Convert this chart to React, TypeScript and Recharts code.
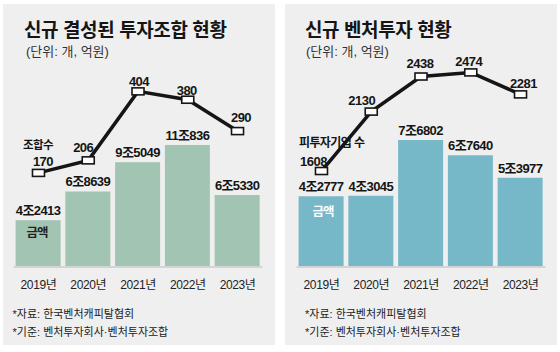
import React from 'react';
import { ComposedChart, Bar, Line, XAxis, YAxis, LabelList } from 'recharts';

// ---------- data ----------
const years = ['2019년', '2020년', '2021년', '2022년', '2023년'];
const fundCounts = [170, 206, 404, 380, 290];
const fundAmounts = [42413, 68639, 95049, 110836, 65330];
const ventureCounts = [1608, 2130, 2438, 2474, 2281];
const ventureAmounts = [42777, 43045, 76802, 67640, 53977];

const leftTitle = '신규 결성된 투자조합 현황';
const rightTitle = '신규 벤처투자 현황';
const unitText = '(단위: 개, 억원)';
const sourceText = '*자료: 한국벤처캐피탈협회';
const basisText = '*기준: 벤처투자회사·벤처투자조합';
const leftLineCaption = '조합수';
const rightLineCaption = '피투자기업 수';
const barCaption = '금액';

// ---------- styling ----------
const FONT = '"Liberation Sans", "Noto Sans CJK KR", sans-serif';
const PANEL_BG = '#efefef';
const LEFT_BAR = '#a1c4b3';
const RIGHT_BAR = '#77b8c8';
const INK = '#151515';
const LEFT_LABEL_DX = [4.5, -5, 1, -1, 3.5];
const RIGHT_LABEL_DX = [-8, -9.5, -1, -2, 3];
const LEFT_DY = [-7.3, -8.7, -5.7, -5, -8.7];
const RIGHT_DY = [-5, -6.7, -8.7, -6.3, -6.3];

const leftData = years.map((year, i) => ({ year, count: fundCounts[i], amount: fundAmounts[i] }));
const rightData = years.map((year, i) => ({ year, count: ventureCounts[i], amount: ventureAmounts[i] }));

const fmtAmount = (v: number) => `${Math.floor(v / 10000)}조${v % 10000}`;

const getBox = (props: any) => {
  const vb = props.viewBox || {};
  return {
    x: props.x ?? vb.x,
    y: props.y ?? vb.y,
    width: props.width ?? vb.width ?? 0,
    height: props.height ?? vb.height ?? 0,
  };
};

const MarkerDot = (props: any) => {
  const { cx, cy, index } = props;
  if (cx == null || cy == null) return <g key={`d-${index}`} />;
  return (
    <rect
      key={`d-${index}`}
      x={cx - 6}
      y={cy - 3.5}
      width={12}
      height={7}
      fill="#fff"
      stroke={INK}
      strokeWidth={1.6}
    />
  );
};

const makeBarLabel = (captionColor: string, captionDy: number, captionDx: number) => (props: any) => {
  const { x, y, width } = getBox(props);
  const cx = x + width / 2;
  return (
    <g>
      <text
        x={cx}
        y={y - 5}
        textAnchor="middle"
        fontSize={13}
        fontWeight="bold"
        letterSpacing={-0.6}
        fill={INK}
        fontFamily={FONT}
      >
        {fmtAmount(Number(props.value))}
      </text>
      {props.index === 0 && (
        <text
          x={cx + captionDx}
          y={y + captionDy}
          textAnchor="middle"
          fontSize={12.5}
          fontWeight="bold"
          letterSpacing={-1}
          fill={captionColor}
          fontFamily={FONT}
        >
          {barCaption}
        </text>
      )}
    </g>
  );
};

const makeLineLabel = (
  dxs: number[],
  baseDy: number[],
  caption: string,
  captionDx: number,
  captionAnchor: 'start' | 'middle',
  captionSize: number
) => (props: any) => {
  const { x, y } = getBox(props);
  const i = props.index ?? 0;
  return (
    <g>
      {i === 0 && (
        <text
          x={x + captionDx}
          y={y - 24}
          textAnchor={captionAnchor}
          fontSize={captionSize}
          fontWeight="bold"
          letterSpacing={-0.6}
          fill={INK}
          fontFamily={FONT}
        >
          {caption}
        </text>
      )}
      <text
        x={x + dxs[i]}
        y={y + baseDy[i]}
        textAnchor="middle"
        fontSize={13}
        fontWeight="bold"
        letterSpacing={-0.5}
        fill={INK}
        fontFamily={FONT}
      >
        {props.value}
      </text>
    </g>
  );
};

type PanelProps = {
  data: any[];
  left: number;
  marginLeft: number;
  marginRight: number;
  barColor: string;
  barDomain: [number, number];
  lineDomain: [number, number];
  barLabel: (p: any) => any;
  lineLabel: (p: any) => any;
};

const Panel = ({ data, left, marginLeft, marginRight, barColor, barDomain, lineDomain, barLabel, lineLabel }: PanelProps) => (
  <div style={{ position: 'absolute', left, top: 0, width: 280, height: 352 }}>
    <ComposedChart
      width={280}
      height={352}
      data={data}
      margin={{ top: 60, bottom: 55, left: marginLeft, right: marginRight }}
    >
      <XAxis
        dataKey="year"
        height={30}
        tickLine={false}
        tickSize={0}
        tickMargin={13}
        axisLine={{ stroke: '#d4d4d4', strokeWidth: 2 }}
        tick={{ fontSize: 12, fill: '#222', fontFamily: FONT, letterSpacing: -0.4 } as any}
        interval={0}
      />
      <YAxis yAxisId="bar" hide domain={barDomain} allowDataOverflow />
      <YAxis yAxisId="line" hide domain={lineDomain} allowDataOverflow />
      <Bar yAxisId="bar" dataKey="amount" fill={barColor} barSize={45} isAnimationActive={false}>
        <LabelList dataKey="amount" content={barLabel} />
      </Bar>
      <Line
        yAxisId="line"
        dataKey="count"
        type="linear"
        stroke={INK}
        strokeWidth={3.5}
        dot={MarkerDot}
        activeDot={false}
        isAnimationActive={false}
      >
        <LabelList dataKey="count" content={lineLabel} />
      </Line>
    </ComposedChart>
  </div>
);

export default function App() {
  return (
    <div
      style={{
        position: 'absolute',
        left: 0,
        top: 0,
        width: 560,
        height: 352,
        background: '#fff',
        fontFamily: FONT,
        overflow: 'hidden',
      }}
    >
      <div style={{ position: 'absolute', left: 3, top: 4, width: 272, height: 341, background: PANEL_BG }} />
      <div style={{ position: 'absolute', left: 285, top: 4, width: 272, height: 341, background: PANEL_BG }} />

      <Panel
        data={leftData}
        left={0}
        marginLeft={13.6}
        marginRight={17.6}
        barColor={LEFT_BAR}
        barDomain={[0, 187900]}
        lineDomain={[-100, 494]}
        barLabel={makeBarLabel('#222', 16.5, -1)}
        lineLabel={makeLineLabel(LEFT_LABEL_DX, LEFT_DY, leftLineCaption, -0.5, 'middle', 11.5)}
      />
      <Panel
        data={rightData}
        left={280}
        marginLeft={16.6}
        marginRight={14.6}
        barColor={RIGHT_BAR}
        barDomain={[0, 125200]}
        lineDomain={[765, 2583]}
        barLabel={makeBarLabel('#ffffff', 19.5, 2)}
        lineLabel={makeLineLabel(RIGHT_LABEL_DX, RIGHT_DY, rightLineCaption, -22.5, 'start', 12)}
      />

      <svg
        width={560}
        height={352}
        style={{ position: 'absolute', left: 0, top: 0, pointerEvents: 'none' }}
        fontFamily={FONT}
      >
        <text x={24} y={37} fontSize={19} fontWeight="bold" letterSpacing={-0.4} fill={INK}>
          {leftTitle}
        </text>
        <text x={305} y={37} fontSize={19} fontWeight="bold" letterSpacing={-0.4} fill={INK}>
          {rightTitle}
        </text>
        <text x={26} y={56} fontSize={13} fill="#333">
          {unitText}
        </text>
        <text x={306} y={56} fontSize={13} fill="#333">
          {unitText}
        </text>
        <text x={12.5} y={318} fontSize={11} fill="#222">
          {sourceText}
        </text>
        <text x={12.5} y={335.5} fontSize={11} fill="#222">
          {basisText}
        </text>
        <text x={305} y={318} fontSize={11} fill="#222">
          {sourceText}
        </text>
        <text x={305} y={335.5} fontSize={11} fill="#222">
          {basisText}
        </text>
      </svg>
    </div>
  );
}
